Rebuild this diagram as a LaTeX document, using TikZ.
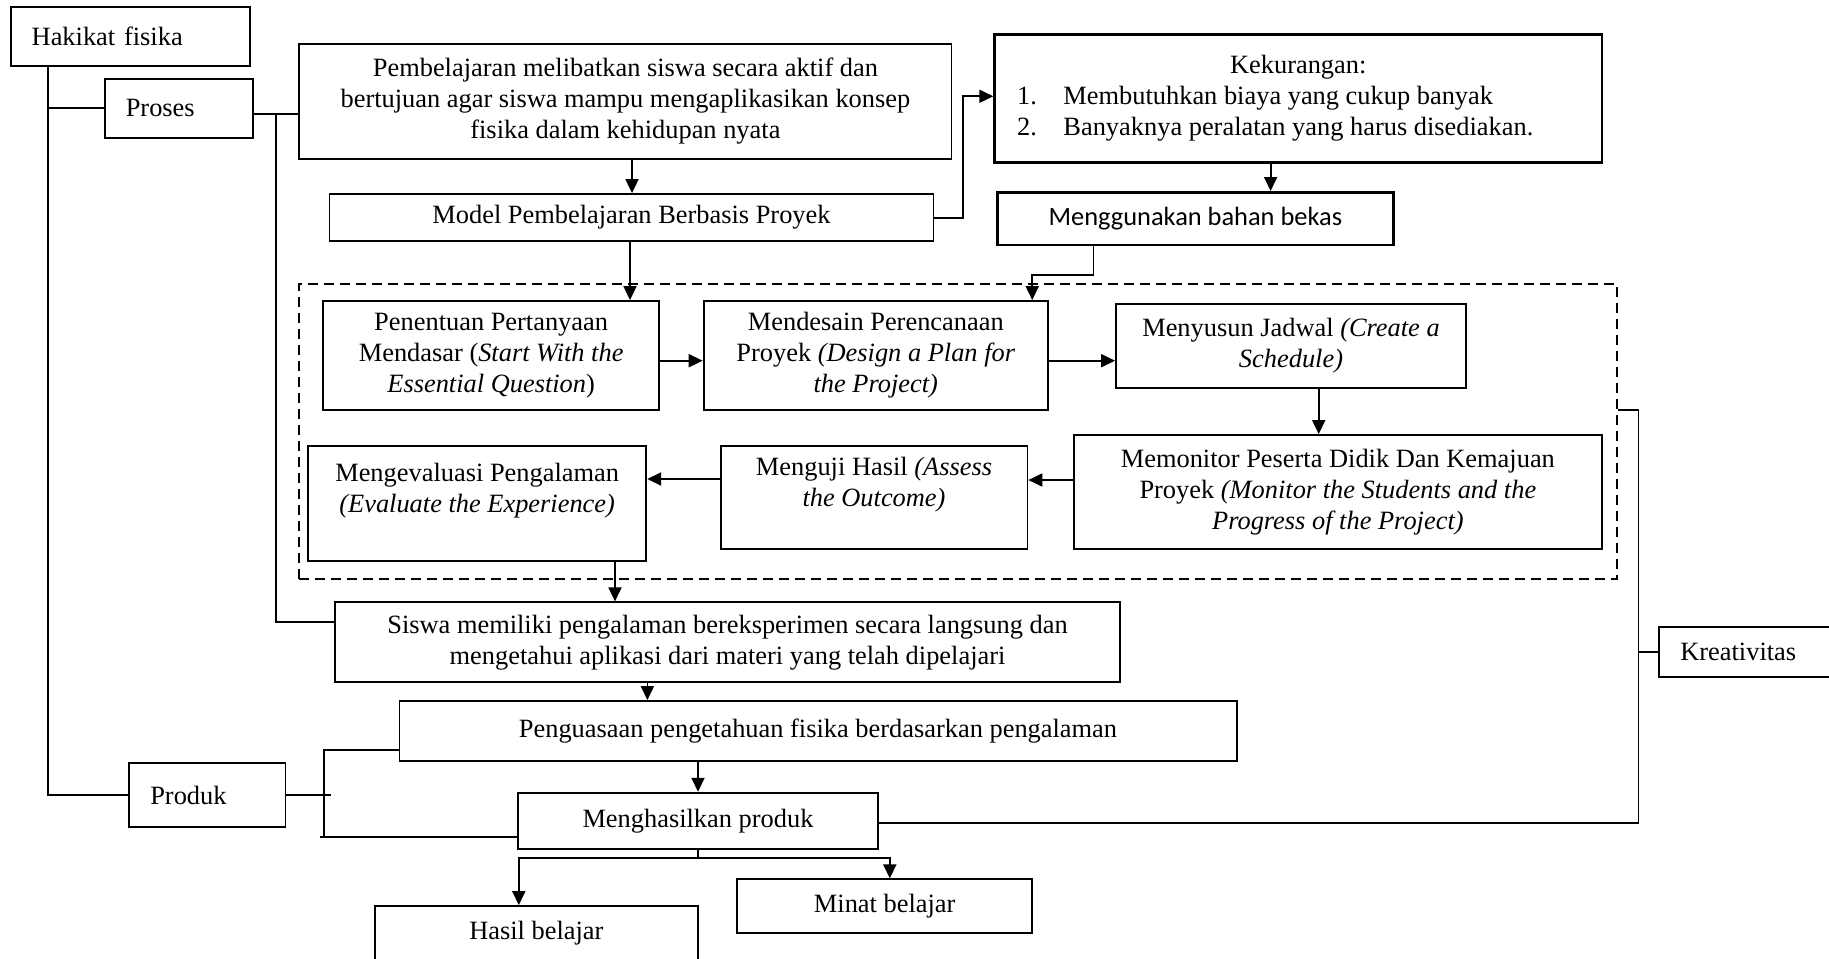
\documentclass[tikz,border=0pt]{standalone}
\usepackage{fontspec}
\setmainfont{Liberation Serif}
\newfontfamily\calib{Carlito}
\usetikzlibrary{arrows.meta}
% [options]{name}{text}{x1}{x2}{y1}{y2}  (pixel coordinates of the reference)
\newcommand\bx[7][]{\node[box,minimum width={(#5-#4)*0.5pt},minimum height={(#7-#6)*0.5pt},#1] (#2) at ({(#4+#5)/2},{(#6+#7)/2}) {#3};}
\begin{document}
\begin{tikzpicture}[x=0.5pt,y=-0.5pt,
  box/.style={draw, line width=0.9pt, inner sep=0pt, align=center, font=\fontsize{13.2}{15.5}\selectfont},
  lbox/.style={align=left},
  tbox/.style={line width=1.3pt},
  dbox/.style={dash pattern=on 5pt off 3pt, line width=1.1pt},
  con/.style={line width=0.9pt},
  arr/.style={-{Triangle[length=7pt,width=6.5pt]}}]
\useasboundingbox (0,0) rectangle (1829,958);
\clip (0,0) rectangle (1829,958);

\bx[dbox]{dsh}{}{299.3}{1617.2}{284}{579}
\bx[lbox,text width=98.8pt]{hak}{Hakikat fisika}{10.7}{250.3}{6.7}{65.7}
\bx[lbox,text width=53.15pt]{pro}{Proses}{104.8}{253.1}{79}{137.7}
\bx{pem}{Pembelajaran melibatkan siswa secara aktif dan\\bertujuan agar siswa mampu mengaplikasikan konsep\\fisika dalam kehidupan nyata}{299.3}{951.5}{43.7}{159.3}
\bx{mod}{Model Pembelajaran Berbasis Proyek}{329.5}{933.5}{194}{241.3}
\bx[tbox]{kek}{\parbox{303.6pt}{\centering Kekurangan:\par\raggedright
\hspace*{11.2pt}\makebox[23.2pt][l]{1.}Membutuhkan biaya yang cukup banyak\par
\hspace*{11.2pt}\makebox[23.2pt][l]{2.}Banyaknya peralatan yang harus disediakan.}}{994.6}{1601.9}{34.3}{162.3}
\bx[tbox,font={\calib\fontsize{13.2}{15.5}\selectfont}]{men}{Menggunakan bahan bekas}{997.4}{1393.3}{192.3}{245}
\bx{pen}{Penentuan Pertanyaan\\Mendasar (\textit{Start With the}\\\textit{Essential Question})}{323}{659.3}{301}{410}
\bx{des}{Mendesain Perencanaan\\Proyek \textit{(Design a Plan for}\\\textit{the Project)}}{703.6}{1048}{301}{410}
\bx{jad}{Menyusun Jadwal \textit{(Create a}\\\textit{Schedule)}}{1116}{1466}{304.3}{387.7}
\bx{mon}{Memonitor Peserta Didik Dan Kemajuan\\Proyek \textit{(Monitor the Students and the}\\\textit{Progress of the Project)}}{1073.7}{1602}{435}{549.3}
\bx{uji}{Menguji Hasil \textit{(Assess}\\\textit{the Outcome)}\\\mbox{}}{720.6}{1027.4}{445.7}{549.3}
\bx{eva}{Mengevaluasi Pengalaman\\\textit{(Evaluate the Experience)}\\\mbox{}}{308}{646.3}{445.7}{561}
\bx{sis}{Siswa memiliki pengalaman bereksperimen secara langsung dan\\mengetahui aplikasi dari materi yang telah dipelajari}{335}{1120}{602.3}{682.3}
\bx{peng}{Penguasaan pengetahuan fisika berdasarkan pengalaman}{399.4}{1236.6}{701}{760.7}
\bx{hsl}{Menghasilkan produk}{518}{878}{792.7}{849.3}
\bx[lbox,text width=57.1pt]{prd}{Produk}{129.3}{285.5}{763.3}{826.7}
\bx[lbox,text width=74.35pt]{kre}{Kreativitas}{1659.3}{1850}{626.7}{676.7}
\bx{hb}{Hasil belajar}{374.8}{698}{906}{960.6}
\bx{mnt}{Minat belajar}{737.2}{1032.2}{879.3}{933.3}

% tree on the left
\coordinate (jA) at (48.2,108.3);
\draw[con] (hak.south -| jA) |- (prd.west);
\draw[con] (jA) -- (pro.west |- jA);
\coordinate (jB) at (275.6,114.3);
\coordinate (jC) at (275.6,621.7);
\draw[con] (pro.east |- jB) -- (pem.west |- jB);
\draw[con] (jB) -- (jC) -- (sis.west |- jC);

% top flow
\draw[con,arr] (pem.south -| 632,0) -- (mod.north -| 632,0);
\draw[con,arr] (mod.east) -| (962.7,96.3) -- (kek.west |- 0,96.3);
\draw[con,arr] (kek.south -| 1270.6,0) -- (men.north -| 1270.6,0);
\draw[con,arr] (men.south -| 1093.5,0) |- (1032.2,275) -- (des.north -| 1032.2,0);
\draw[con,arr] (mod.south -| 630,0) -- (pen.north -| 630,0);

% steps
\draw[con,arr] (pen.east |- 0,360.7) -- (des.west |- 0,360.7);
\draw[con,arr] (des.east |- 0,360.7) -- (jad.west |- 0,360.7);
\draw[con,arr] (jad.south -| 1318.7,0) -- (mon.north -| 1318.7,0);
\draw[con,arr] (mon.west |- 0,480) -- (uji.east |- 0,480);
\draw[con,arr] (uji.west |- 0,479) -- (eva.east |- 0,479);

% lower flow
\draw[con,arr] (eva.south -| 615,0) -- (sis.north -| 615,0);
\draw[con,arr] (sis.south -| 647.4,0) -- (peng.north -| 647.4,0);
\draw[con,arr] (peng.south -| 698,0) -- (hsl.north -| 698,0);
\coordinate (jD) at (698,857.7);
\draw[con] (hsl.south -| jD) -- (jD);
\draw[con,arr] (jD) -| (hb.north -| 518.8,0);
\draw[con,arr] (jD) -| (mnt.north -| 889.8,0);

% Produk bracket
\draw[con] (prd.east) -- ++(44.7,0);
\draw[con] (peng.west |- 0,750) -| (324.2,838.3);
\draw[con] (hsl.west |- 0,836.7) -- (319.5,836.7);

% Kreativitas bracket
\coordinate (jF) at (1638.4,410);
\draw[con] (dsh.east |- jF) -- (jF) |- (hsl.east |- 0,823.3);
\draw[con] (kre.west) -- (kre.west -| jF);
\end{tikzpicture}
\end{document}
